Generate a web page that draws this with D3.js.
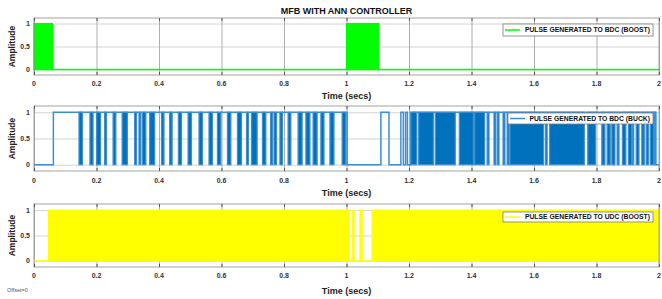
<!DOCTYPE html>
<html><head><meta charset="utf-8">
<script src="https://cdn.jsdelivr.net/npm/d3@7"></script>
<style>
body{margin:0;background:#fff;}
svg{display:block;font-family:"Liberation Sans",Arial,sans-serif;}
</style>
</head><body>
<svg id="chart" width="662" height="299"></svg>
<script>
// ---------------- DATA ----------------
const chartTitle = "MFB WITH ANN CONTROLLER";
const xTicks = [0, 0.2, 0.4, 0.6, 0.8, 1, 1.2, 1.4, 1.6, 1.8, 2];
const xTickLabels = ["0", "0.2", "0.4", "0.6", "0.8", "1", "1.2", "1.4", "1.6", "1.8", "2"];
const yTicks = [0, 0.5, 1];
const yTickLabels = ["0", "0.5", "1"];
const seriesNames = ["PULSE GENERATED TO BDC (BOOST)", "PULSE GENERATED TO BDC (BUCK)", "PULSE GENERATED TO UDC (BOOST)"];

// BDC boost: line at 0, dense switching bursts (0..1)
const boostBaseSteps = [[0, 0], [2, 0]];
const boostBursts = [[0, 0.059], [1.0, 1.103]];

// BDC buck: intervals where signal stays at 0 (rest is 1)
const buckLows = [
  [0, 0.062], [1.002, 1.110], [1.136, 1.174], [1.182, 1.189], [1.195, 1.206], [1.990, 2.0]
];
// BDC buck: short switching bursts (0..1) and dense switching regions
const buckBursts = [
  [0.144, 0.155], [0.179, 0.189], [0.200, 0.213], [0.226, 0.232], [0.253, 0.262],
  [0.282, 0.299], [0.322, 0.328], [0.336, 0.342], [0.347, 0.358], [0.370, 0.386],
  [0.408, 0.416], [0.434, 0.442], [0.462, 0.472], [0.493, 0.504], [0.528, 0.539],
  [0.560, 0.571], [0.587, 0.598], [0.619, 0.630], [0.651, 0.664], [0.680, 0.686],
  [0.696, 0.714], [0.731, 0.742], [0.757, 0.763], [0.768, 0.776], [0.787, 0.795],
  [0.813, 0.822], [0.845, 0.858], [0.870, 0.883], [0.893, 0.906], [0.918, 0.928],
  [0.947, 0.960], [0.986, 0.998],
  [1.206, 1.225], [1.231, 1.278], [1.284, 1.348], [1.361, 1.406], [1.410, 1.442],
  [1.450, 1.456], [1.472, 1.478], [1.483, 1.488], [1.501, 1.507], [1.514, 1.520],
  [1.523, 1.631], [1.637, 1.642], [1.650, 1.761], [1.772, 1.797],
  [1.817, 1.827], [1.834, 1.844], [1.849, 1.859], [1.866, 1.872], [1.883, 1.894],
  [1.902, 1.913], [1.915, 1.919], [1.927, 1.936], [1.945, 1.953], [1.959, 1.966],
  [1.972, 1.983], [1.985, 1.989]
];

// UDC boost: line at 0, dense switching bursts
const udcBaseSteps = [[0, 0], [2, 0]];
const udcBursts = [[0.046, 1.007], [1.018, 1.024], [1.043, 1.050], [1.082, 2.0]];

// ---------------- LAYOUT ----------------
const svg = d3.select("#chart");
const left = 34, right = 659;
const panels = [
  {top: 18, bottom: 75, color: "#00ff00", line: "#00ff00", name: seriesNames[0], steps: boostBaseSteps, bursts: boostBursts,
   leg: {x0: 503, y0: 24, h: 12}, timeY: 99, tickY: 86},
  {top: 106, bottom: 171, color: "#0072BD", line: "#3d8fd1", name: seriesNames[1], lows: buckLows, bursts: buckBursts,
   leg: {x0: 508, y0: 113, h: 11}, timeY: 196, tickY: 183},
  {top: 204, bottom: 267, color: "#ffff00", line: "#ffff00", name: seriesNames[2], steps: udcBaseSteps, bursts: udcBursts,
   leg: {x0: 503, y0: 212, h: 10}, timeY: 294, tickY: 278}
];

const x = d3.scaleLinear().domain([0, 2]).range([left, right]);

function stepsFromLows(lows) {
  const pts = [];
  let t = 0;
  lows.forEach(([a, b]) => {
    if (a > t) pts.push([t, 1]);
    pts.push([a, 0]);
    t = b;
  });
  if (t < 2) pts.push([t, 1]);
  pts.push([2, pts[pts.length - 1][1]]);
  return pts;
}

svg.append("text").attr("x", (left + right) / 2).attr("y", 14)
  .attr("text-anchor", "middle").attr("font-size", 9).attr("font-weight", "bold")
  .attr("fill", "#111").text(chartTitle);

svg.append("text").attr("x", 7).attr("y", 292).attr("font-size", 5.5)
  .attr("fill", "#555").text("Offset=0");

panels.forEach(p => {
  const y = d3.scaleLinear().domain([-0.12, 1.12]).range([p.bottom, p.top]);
  const g = svg.append("g");
  const h = p.bottom - p.top;

  g.append("rect").attr("x", left).attr("y", p.top).attr("width", right - left).attr("height", h)
    .attr("fill", "#fff");

  // horizontal grid
  g.append("g").attr("transform", `translate(${left},0)`)
    .call(d3.axisLeft(y).tickValues(yTicks).tickSize(-(right - left)).tickFormat(""))
    .call(a => a.select(".domain").remove())
    .call(a => a.selectAll("line").attr("stroke", "#d4d4d4").attr("stroke-width", 1));

  // vertical grid
  g.append("g").attr("transform", `translate(0,${p.bottom})`)
    .call(d3.axisBottom(x).tickValues(xTicks).tickSize(-h).tickFormat(""))
    .call(a => a.select(".domain").remove())
    .call(a => a.selectAll("line").attr("stroke", "#9a9a9a").attr("stroke-width", 0.8));

  // step line
  const pts = p.lows ? stepsFromLows(p.lows) : p.steps;
  g.append("path").datum(pts)
    .attr("d", d3.line().x(d => x(d[0])).y(d => y(d[1])).curve(d3.curveStepAfter))
    .attr("fill", "none").attr("stroke", p.line).attr("stroke-width", 1.5);

  // bursts (dense switching)
  g.selectAll("rect.burst").data(p.bursts).join("rect").attr("class", "burst")
    .attr("x", d => x(d[0])).attr("width", d => Math.max(0.5, x(d[1]) - x(d[0])))
    .attr("y", y(1)).attr("height", y(0) - y(1))
    .attr("fill", p.color).attr("stroke", p.line).attr("stroke-width", 1.2);

  // frame
  g.append("rect").attr("x", left).attr("y", p.top).attr("width", right - left).attr("height", h)
    .attr("fill", "none").attr("stroke", "#8c8c8c").attr("stroke-width", 0.8);

  // tick marks (inward) top & bottom
  g.append("g").attr("transform", `translate(0,${p.bottom})`)
    .call(d3.axisBottom(x).tickValues(xTicks).tickSize(-3).tickFormat(""))
    .call(a => a.select(".domain").remove())
    .call(a => a.selectAll("line").attr("stroke", "#555"));
  g.append("g").attr("transform", `translate(0,${p.top})`)
    .call(d3.axisTop(x).tickValues(xTicks).tickSize(-3).tickFormat(""))
    .call(a => a.select(".domain").remove())
    .call(a => a.selectAll("line").attr("stroke", "#555"));

  // x tick labels
  g.selectAll("text.xt").data(xTicks).join("text").attr("class", "xt")
    .attr("x", d => x(d)).attr("y", p.tickY).attr("text-anchor", "middle")
    .attr("font-size", 7).attr("font-weight", "bold").attr("fill", "#333")
    .text((d, i) => xTickLabels[i]);

  // y tick labels
  g.selectAll("text.yt").data(yTicks).join("text").attr("class", "yt")
    .attr("x", 30).attr("y", d => y(d) + 2.5).attr("text-anchor", "end")
    .attr("font-size", 7).attr("font-weight", "bold").attr("fill", "#333")
    .text((d, i) => yTickLabels[i]);

  // axis titles
  g.append("text").attr("transform", `translate(15,${(y(0) + y(1)) / 2}) rotate(-90)`)
    .attr("text-anchor", "middle").attr("font-size", 8.5).attr("font-weight", "bold")
    .attr("fill", "#222").text("Amplitude");
  g.append("text").attr("x", (left + right) / 2).attr("y", p.timeY)
    .attr("text-anchor", "middle").attr("font-size", 9).attr("font-weight", "bold")
    .attr("fill", "#222").text("Time (secs)");

  // legend
  const L = p.leg, lx1 = 653;
  g.append("rect").attr("x", L.x0).attr("y", L.y0).attr("width", lx1 - L.x0).attr("height", L.h)
    .attr("fill", "#fff").attr("stroke", "#7a7a7a").attr("stroke-width", 0.8);
  g.append("line").attr("x1", L.x0 + 2).attr("x2", L.x0 + 17)
    .attr("y1", L.y0 + L.h / 2).attr("y2", L.y0 + L.h / 2)
    .attr("stroke", p.line).attr("stroke-width", 1.5);
  g.append("text").attr("x", lx1 - 3).attr("y", L.y0 + L.h / 2 + 2.4).attr("text-anchor", "end")
    .attr("font-size", 6.8).attr("font-weight", "bold").attr("fill", "#111").text(p.name);
});
</script>
</body></html>
